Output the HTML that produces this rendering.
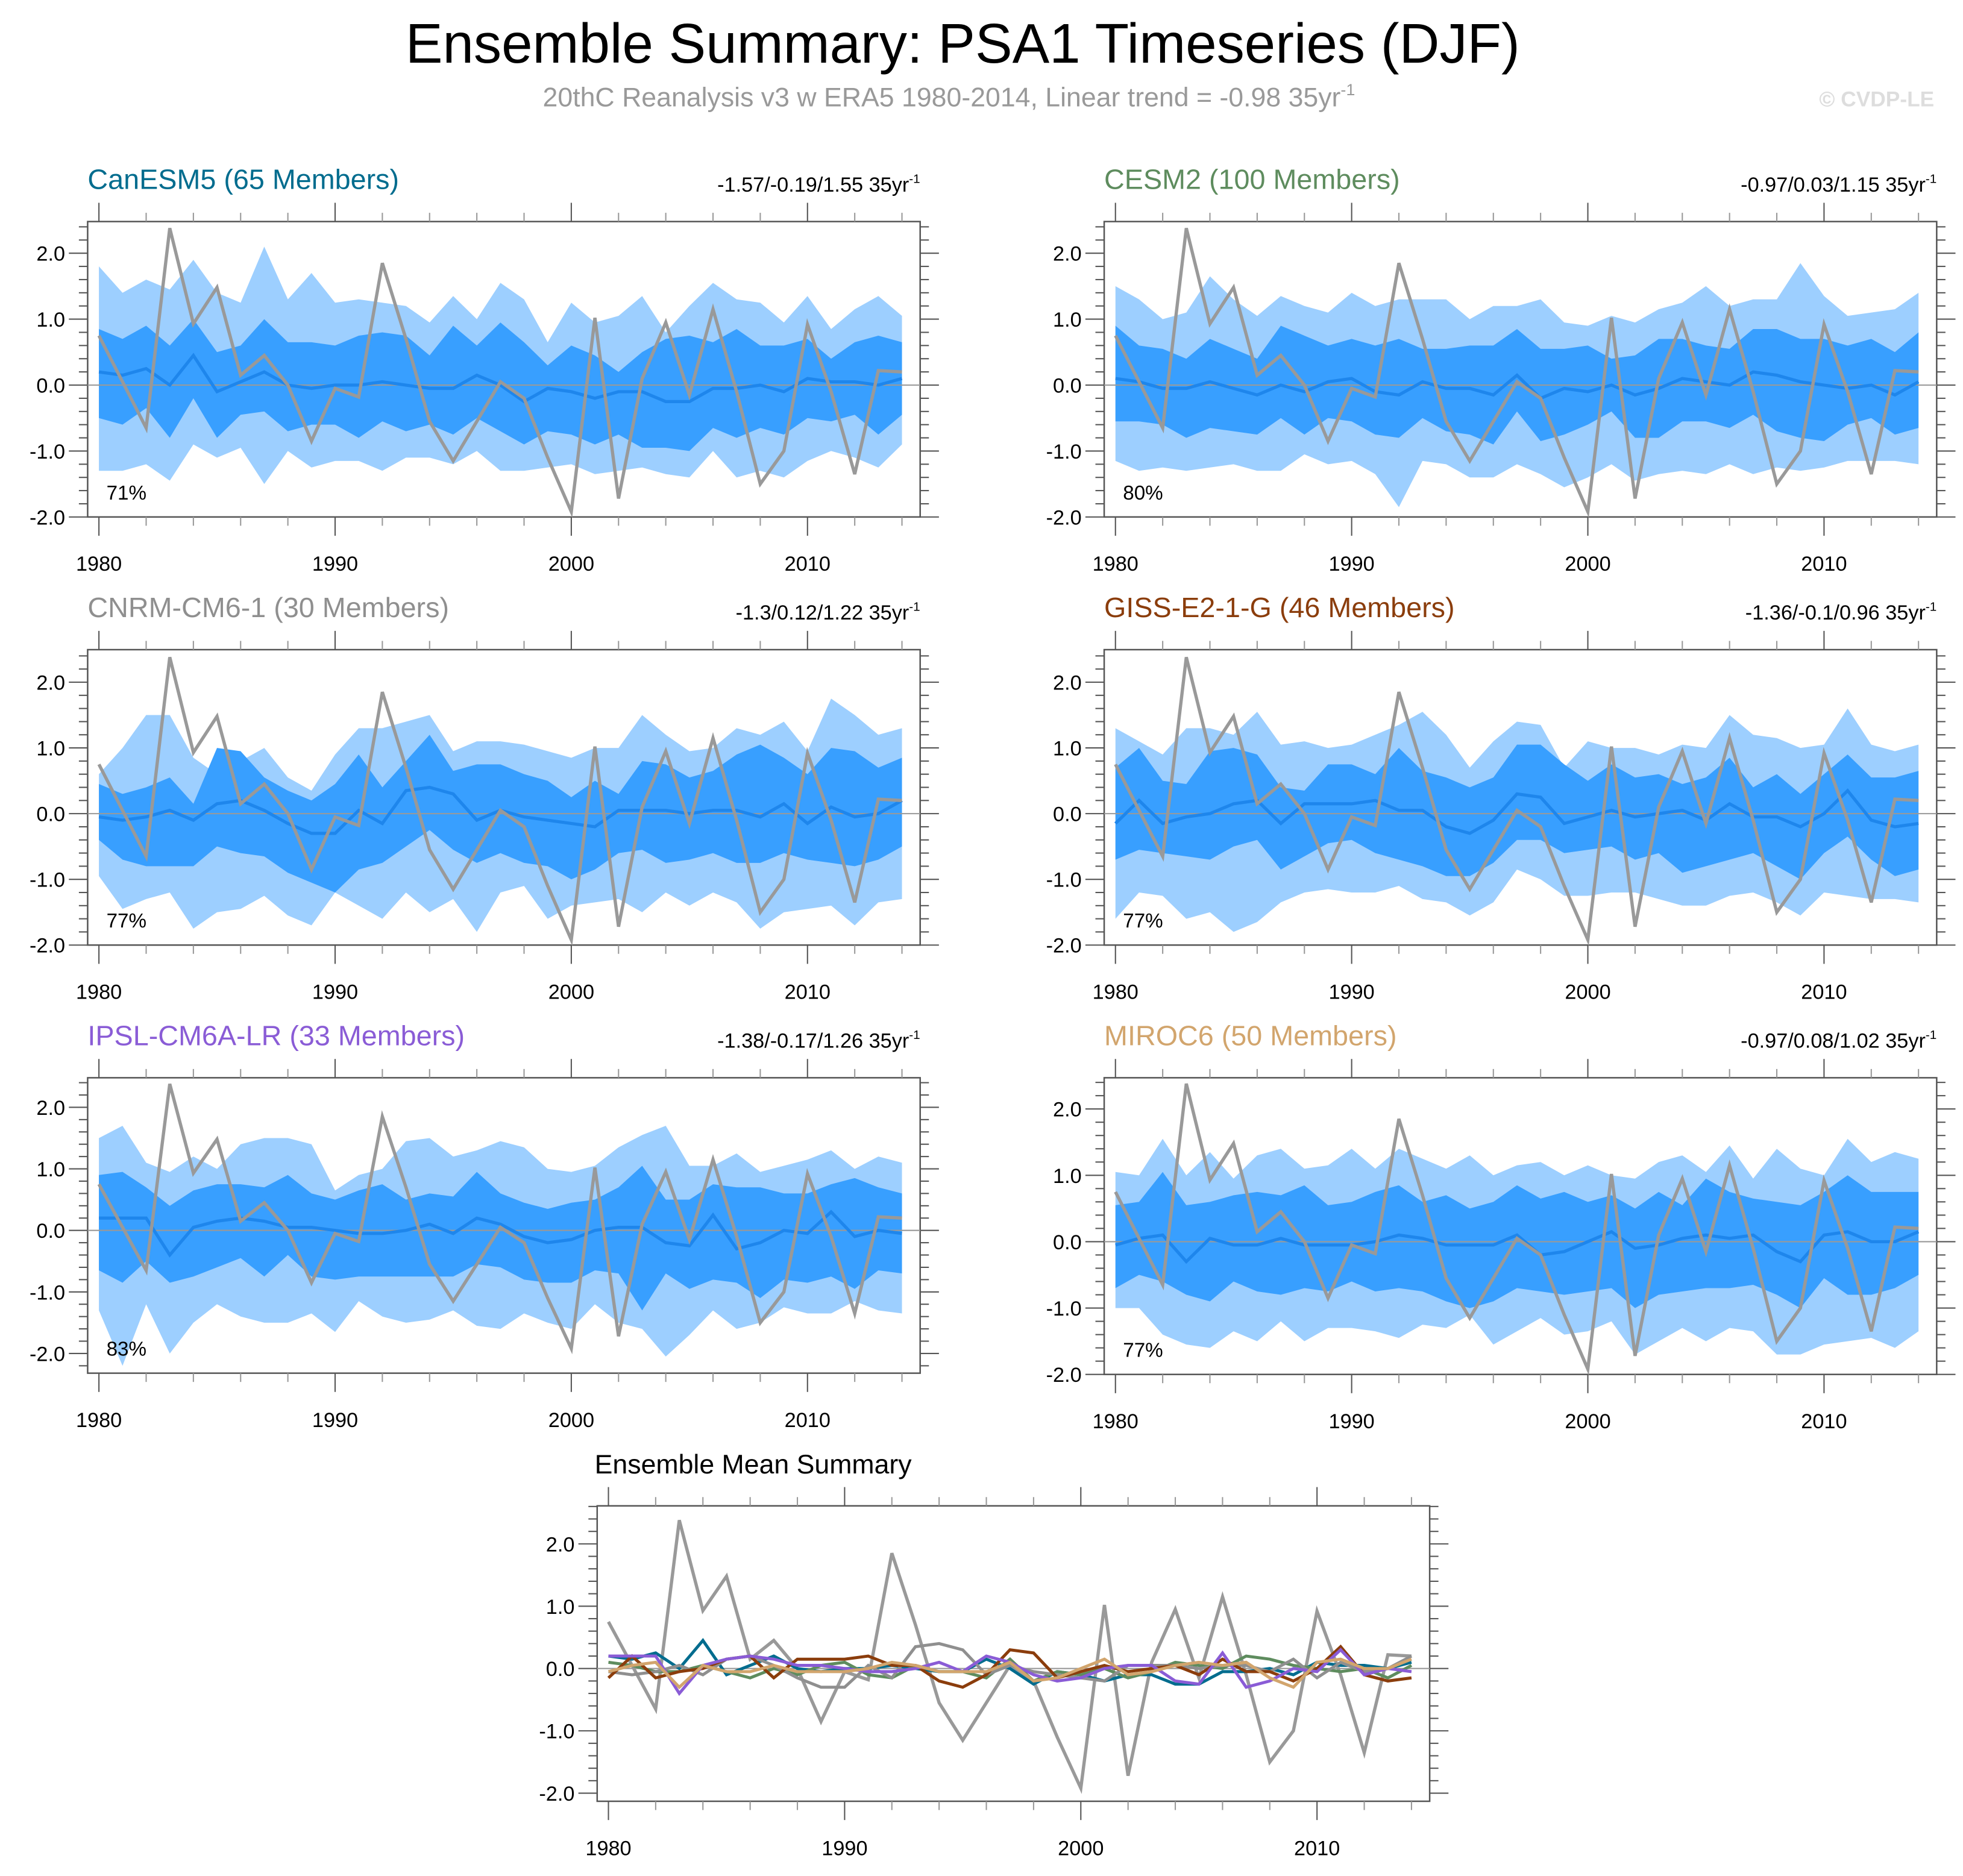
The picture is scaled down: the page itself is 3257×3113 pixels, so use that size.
<!DOCTYPE html>
<html><head><meta charset="utf-8"><style>
html,body{margin:0;padding:0;background:#fff;}
svg{display:block;font-family:"Liberation Sans",Arial,sans-serif;}
</style></head><body>
<svg id="chart" xmlns="http://www.w3.org/2000/svg" width="3257" height="3113" viewBox="0 0 1568 1498.7">
<rect x="0" y="0" width="1568" height="1499" fill="#fff"/>
<text x="769" y="50" text-anchor="middle" font-size="44.5" fill="#000">Ensemble Summary: PSA1 Timeseries (DJF)</text>
<text x="758" y="85" text-anchor="middle" font-size="21.5" fill="#999">20thC Reanalysis v3 w ERA5 1980-2014, Linear trend = -0.98 35yr<tspan font-size="13" dy="-9">-1</tspan></text>
<text x="1545" y="85" text-anchor="end" font-size="17" font-weight="bold" fill="#ddd">© CVDP-LE</text>
</svg>
<script>
const years = [];
for (let y = 1980; y <= 2014; y++) years.push(y);
const obs = [0.75,0.05,-0.65,2.38,0.93,1.48,0.15,0.45,0.0,-0.85,-0.05,-0.18,1.85,0.7,-0.55,-1.15,-0.55,0.05,-0.2,-1.1,-1.92,1.02,-1.72,0.1,0.95,-0.15,1.15,-0.1,-1.5,-1.0,0.92,-0.1,-1.35,0.22,0.2];

const canLU=[1.8,1.4,1.6,1.45,1.9,1.4,1.25,2.1,1.3,1.7,1.25,1.3,1.25,1.2,0.95,1.35,1.0,1.55,1.3,0.65,1.25,0.95,1.05,1.35,0.8,1.2,1.55,1.3,1.25,0.95,1.35,0.85,1.15,1.35,1.05];
const canDU=[0.85,0.7,0.9,0.6,1.0,0.5,0.6,1.0,0.65,0.65,0.6,0.75,0.8,0.75,0.45,0.9,0.6,0.95,0.65,0.3,0.6,0.45,0.2,0.5,0.7,0.75,0.65,0.85,0.6,0.6,0.7,0.4,0.65,0.75,0.65];
const canM=[0.2,0.15,0.25,0.0,0.45,-0.1,0.05,0.2,0.0,-0.05,0.0,0.0,0.05,0.0,-0.05,-0.05,0.15,0.0,-0.25,-0.05,-0.1,-0.2,-0.1,-0.1,-0.25,-0.25,-0.05,-0.05,0.0,-0.1,0.1,0.05,0.05,0.0,0.1];
const canDL=[-0.5,-0.6,-0.35,-0.8,-0.2,-0.8,-0.45,-0.4,-0.7,-0.6,-0.6,-0.8,-0.55,-0.7,-0.6,-0.75,-0.5,-0.7,-0.9,-0.7,-0.75,-0.9,-0.75,-0.95,-0.95,-1.0,-0.65,-0.8,-0.65,-0.75,-0.5,-0.55,-0.45,-0.75,-0.45];
const canLL=[-1.3,-1.3,-1.2,-1.45,-0.9,-1.1,-0.95,-1.5,-1.0,-1.25,-1.15,-1.15,-1.3,-1.1,-1.1,-1.2,-1.0,-1.3,-1.3,-1.25,-1.2,-1.35,-1.3,-1.25,-1.35,-1.4,-1.0,-1.4,-1.3,-1.4,-1.15,-1.0,-1.1,-1.25,-0.9];

const cesLU=[1.5,1.3,1.0,1.1,1.65,1.3,1.05,1.35,1.2,1.1,1.4,1.2,1.3,1.3,1.3,1.0,1.2,1.2,1.3,0.95,0.9,1.05,0.95,1.15,1.25,1.5,1.2,1.3,1.3,1.85,1.35,1.05,1.1,1.15,1.4];
const cesDU=[0.9,0.6,0.55,0.4,0.7,0.55,0.4,0.9,0.75,0.6,0.7,0.6,0.7,0.55,0.55,0.6,0.6,0.85,0.55,0.55,0.6,0.4,0.45,0.7,0.7,0.6,0.55,0.85,0.85,0.7,0.7,0.6,0.7,0.5,0.8];
const cesM=[0.1,0.05,-0.05,-0.05,0.05,-0.05,-0.15,0.0,-0.1,0.05,0.1,-0.1,-0.15,0.05,-0.05,-0.05,-0.15,0.15,-0.2,-0.05,-0.1,0.0,-0.15,-0.05,0.1,0.05,0.0,0.2,0.15,0.05,0.0,-0.05,0.0,-0.15,0.05];
const cesDL=[-0.55,-0.55,-0.6,-0.8,-0.65,-0.7,-0.75,-0.5,-0.75,-0.5,-0.55,-0.75,-0.8,-0.5,-0.7,-0.75,-0.9,-0.4,-0.85,-0.75,-0.6,-0.4,-0.8,-0.8,-0.55,-0.55,-0.65,-0.45,-0.7,-0.8,-0.85,-0.6,-0.5,-0.75,-0.65];
const cesLL=[-1.15,-1.3,-1.25,-1.3,-1.25,-1.2,-1.3,-1.3,-1.05,-1.2,-1.15,-1.35,-1.85,-1.15,-1.2,-1.4,-1.4,-1.2,-1.35,-1.55,-1.4,-1.2,-1.45,-1.35,-1.3,-1.35,-1.2,-1.35,-1.25,-1.3,-1.25,-1.15,-1.15,-1.15,-1.2];

const cnrLU=[0.6,1.0,1.5,1.5,0.85,0.6,0.8,1.0,0.55,0.35,0.9,1.3,1.3,1.4,1.5,0.95,1.1,1.1,1.05,0.95,0.85,1.0,1.0,1.5,1.2,0.95,1.0,1.3,1.2,1.4,0.95,1.75,1.5,1.2,1.3];
const cnrDU=[0.45,0.3,0.4,0.55,0.15,1.0,0.95,0.55,0.35,0.2,0.45,0.9,0.4,0.8,1.2,0.65,0.75,0.75,0.6,0.5,0.25,0.5,0.3,0.8,0.75,0.55,0.65,0.9,1.05,0.85,0.6,1.0,0.95,0.7,0.85];
const cnrM=[-0.05,-0.1,-0.05,0.05,-0.1,0.15,0.2,0.05,-0.15,-0.3,-0.3,0.05,-0.15,0.35,0.4,0.3,-0.1,0.05,-0.05,-0.1,-0.15,-0.2,0.05,0.05,0.05,0.0,0.05,0.05,-0.05,0.15,-0.15,0.1,-0.05,0.0,0.2];
const cnrDL=[-0.4,-0.7,-0.8,-0.8,-0.8,-0.5,-0.6,-0.65,-0.9,-1.05,-1.2,-0.85,-0.75,-0.5,-0.25,-0.55,-0.75,-0.6,-0.75,-0.8,-1.0,-0.85,-0.6,-0.55,-0.75,-0.7,-0.6,-0.75,-0.75,-0.6,-0.7,-0.75,-0.8,-0.7,-0.5];
const cnrLL=[-0.95,-1.45,-1.3,-1.2,-1.75,-1.5,-1.45,-1.25,-1.55,-1.7,-1.2,-1.4,-1.6,-1.2,-1.5,-1.3,-1.8,-1.2,-1.1,-1.6,-1.4,-1.35,-1.3,-1.5,-1.2,-1.4,-1.2,-1.35,-1.75,-1.5,-1.45,-1.4,-1.7,-1.35,-1.3];

const gisLU=[1.3,1.1,0.9,1.3,1.3,1.2,1.55,1.05,1.1,1.0,1.05,1.2,1.35,1.55,1.2,0.7,1.1,1.4,1.35,0.7,1.1,1.0,1.0,0.9,1.05,1.0,1.5,1.2,1.15,1.0,1.05,1.6,1.05,0.95,1.05];
const gisDU=[0.7,1.0,0.5,0.45,0.95,1.0,0.9,0.4,0.35,0.75,0.75,0.6,1.0,0.65,0.55,0.4,0.55,1.05,1.05,0.75,0.5,0.75,0.55,0.6,0.45,0.55,0.85,0.4,0.6,0.3,0.6,0.9,0.55,0.55,0.65];
const gisM=[-0.15,0.2,-0.15,-0.05,0.0,0.15,0.2,-0.15,0.15,0.15,0.15,0.2,0.05,0.05,-0.2,-0.3,-0.1,0.3,0.25,-0.15,-0.05,0.05,-0.05,0.0,0.05,-0.1,0.15,-0.05,-0.05,-0.2,0.0,0.35,-0.1,-0.2,-0.15];
const gisDL=[-0.7,-0.55,-0.6,-0.65,-0.7,-0.5,-0.4,-0.85,-0.65,-0.45,-0.4,-0.6,-0.7,-0.8,-0.95,-0.95,-0.75,-0.4,-0.4,-0.6,-0.55,-0.5,-0.7,-0.6,-0.9,-0.8,-0.7,-0.6,-0.8,-1.0,-0.6,-0.35,-0.7,-0.95,-0.85];
const gisLL=[-1.6,-1.2,-1.25,-1.6,-1.5,-1.8,-1.65,-1.35,-1.2,-1.15,-1.2,-1.2,-1.1,-1.3,-1.35,-1.55,-1.35,-0.85,-1.0,-1.25,-1.25,-1.2,-1.2,-1.3,-1.4,-1.4,-1.25,-1.2,-1.35,-1.55,-1.2,-1.25,-1.3,-1.3,-1.35];

const ipsLU=[1.5,1.7,1.1,0.95,1.2,1.0,1.4,1.5,1.5,1.4,0.65,0.9,1.0,1.45,1.5,1.2,1.3,1.45,1.35,1.0,0.95,1.05,1.35,1.55,1.7,1.05,1.05,1.25,0.95,1.05,1.15,1.3,1.0,1.2,1.1];
const ipsDU=[0.9,0.95,0.7,0.4,0.65,0.75,0.75,0.7,0.9,0.6,0.5,0.65,0.75,0.5,0.6,0.55,0.95,0.6,0.45,0.35,0.45,0.5,0.7,1.05,0.5,0.5,0.75,0.7,0.7,0.6,0.6,0.75,0.85,0.7,0.6];
const ipsM=[0.2,0.2,0.2,-0.4,0.05,0.15,0.2,0.15,0.05,0.05,0.0,-0.05,-0.05,0.0,0.1,-0.05,0.2,0.1,-0.1,-0.2,-0.15,0.0,0.05,0.05,-0.2,-0.25,0.25,-0.3,-0.2,0.0,-0.05,0.3,-0.1,0.0,-0.05];
const ipsDL=[-0.65,-0.85,-0.5,-0.85,-0.75,-0.6,-0.45,-0.75,-0.4,-0.75,-0.8,-0.75,-0.75,-0.75,-0.75,-0.75,-0.55,-0.6,-0.8,-0.85,-0.85,-0.65,-0.7,-1.3,-0.7,-0.95,-0.8,-0.85,-1.1,-0.8,-0.85,-0.75,-0.95,-0.65,-0.7];
const ipsLL=[-1.3,-2.2,-1.2,-2.0,-1.5,-1.2,-1.4,-1.5,-1.5,-1.35,-1.65,-1.15,-1.4,-1.5,-1.45,-1.3,-1.55,-1.6,-1.35,-1.5,-1.6,-1.2,-1.5,-1.6,-2.05,-1.7,-1.3,-1.6,-1.5,-1.25,-1.35,-1.35,-1.15,-1.3,-1.35];

const mirLU=[1.05,1.0,1.55,1.0,1.35,0.95,1.3,1.4,1.1,1.15,1.4,1.1,1.4,1.25,1.1,1.3,1.0,1.15,1.2,1.0,1.15,1.0,0.95,1.2,1.3,1.05,1.45,0.95,1.4,1.1,1.0,1.55,1.2,1.35,1.25];
const mirDU=[0.55,0.6,1.05,0.55,0.6,0.7,0.75,0.7,0.85,0.55,0.6,0.75,0.85,0.6,0.7,0.5,0.6,0.85,0.65,0.75,0.6,0.7,0.5,0.75,0.55,0.95,0.75,0.65,0.6,0.55,0.75,1.0,0.75,0.75,0.75];
const mirM=[-0.05,0.05,0.1,-0.3,0.05,-0.05,-0.05,0.05,-0.05,-0.05,-0.05,0.0,0.1,0.05,-0.05,-0.05,-0.05,0.1,-0.2,-0.15,0.0,0.15,-0.1,-0.05,0.05,0.1,0.05,0.1,-0.15,-0.3,0.1,0.15,0.0,0.0,0.15];
const mirDL=[-0.7,-0.5,-0.6,-0.8,-0.9,-0.6,-0.75,-0.8,-0.7,-0.75,-0.6,-0.75,-0.7,-0.75,-0.9,-1.0,-0.9,-0.7,-0.75,-0.8,-0.75,-0.7,-1.0,-0.8,-0.75,-0.7,-0.7,-0.65,-0.8,-1.0,-0.55,-0.8,-0.8,-0.7,-0.5];
const mirLL=[-1.0,-1.0,-1.4,-1.55,-1.6,-1.35,-1.5,-1.2,-1.5,-1.3,-1.3,-1.35,-1.45,-1.25,-1.3,-1.1,-1.55,-1.35,-1.15,-1.4,-1.35,-1.2,-1.7,-1.5,-1.3,-1.5,-1.3,-1.35,-1.7,-1.7,-1.55,-1.5,-1.45,-1.6,-1.35];

const yTicks = [2.0,1.0,0.0,-1.0,-2.0];
const yTickLabels = ["2.0","1.0","0.0","-1.0","-2.0"];
const xTicks = [1980,1990,2000,2010];
const xTickLabels = ["1980","1990","2000","2010"];

const NS = "http://www.w3.org/2000/svg";
const svg = document.getElementById('chart');
function mk(tag, attrs, parent){
  const e = document.createElementNS(NS, tag);
  for (const k in attrs) e.setAttribute(k, attrs[k]);
  (parent||svg).appendChild(e);
  return e;
}

const panels = [
  {key:"canesm5",title:"CanESM5 (65 Members)",color:"#006c8e",trend:"-1.57/-0.19/1.55 35yr",pct:"71%",x0:70,y0:177,y1:413,vt:2.48,vb:-2.0,LU:canLU,DU:canDU,M:canM,DL:canDL,LL:canLL},
  {key:"cesm2",title:"CESM2 (100 Members)",color:"#5e8c5e",trend:"-0.97/0.03/1.15 35yr",pct:"80%",x0:882,y0:177,y1:413,vt:2.48,vb:-2.0,LU:cesLU,DU:cesDU,M:cesM,DL:cesDL,LL:cesLL},
  {key:"cnrm-cm6-1",title:"CNRM-CM6-1 (30 Members)",color:"#8f8f8f",trend:"-1.3/0.12/1.22 35yr",pct:"77%",x0:70,y0:519,y1:755,vt:2.495,vb:-2.0,LU:cnrLU,DU:cnrDU,M:cnrM,DL:cnrDL,LL:cnrLL},
  {key:"giss-e2-1-g",title:"GISS-E2-1-G (46 Members)",color:"#8b3d0c",trend:"-1.36/-0.1/0.96 35yr",pct:"77%",x0:882,y0:519,y1:755,vt:2.495,vb:-2.0,LU:gisLU,DU:gisDU,M:gisM,DL:gisDL,LL:gisLL},
  {key:"ipsl-cm6a-lr",title:"IPSL-CM6A-LR (33 Members)",color:"#8a5cd6",trend:"-1.38/-0.17/1.26 35yr",pct:"83%",x0:70,y0:861,y1:1097,vt:2.48,vb:-2.32,LU:ipsLU,DU:ipsDU,M:ipsM,DL:ipsDL,LL:ipsLL},
  {key:"miroc6",title:"MIROC6 (50 Members)",color:"#d2a56d",trend:"-0.97/0.08/1.02 35yr",pct:"77%",x0:882,y0:861,y1:1098,vt:2.47,vb:-2.0,LU:mirLU,DU:mirDU,M:mirM,DL:mirDL,LL:mirLL}
];

function axes(g, x0, x1, y0, y1, vt, vb, name){
  const xs = yr => x0 + (yr - 1979.523) / (2014.77 - 1979.523) * (x1 - x0);
  const ys = v => y0 + (vt - v) / (vt - vb) * (y1 - y0);
  return {xs, ys, draw(){
    const box = mk('rect',{x:x0,y:y0,width:x1-x0,height:y1-y0,fill:'none',stroke:'#555','stroke-width':1.2},g);
    
    
    for (let v = -3.0; v <= 3.01; v += 0.2) {
      const vv = Math.round(v*10)/10;
      if (vv > vt || vv < vb) continue;
      const major = Math.abs(vv - Math.round(vv)) < 1e-6;
      const L = major ? 15 : 7;
      const y = ys(vv);
      mk('line',{x1:x0-L,y1:y,x2:x0,y2:y,stroke:'#555','stroke-width':1},g);
      mk('line',{x1:x1,y1:y,x2:x1+L,y2:y,stroke:'#555','stroke-width':1},g);
    }
    for (let yr = 1980; yr <= 2014; yr += 2) {
      const major = yr % 10 === 0;
      const L = major ? 15 : 7;
      const x = xs(yr);
      mk('line',{x1:x,y1:y1,x2:x,y2:y1+L,stroke:major?'#555':'#999','stroke-width':1},g);
      mk('line',{x1:x,y1:y0-L,x2:x,y2:y0,stroke:major?'#555':'#999','stroke-width':1},g);
    }
    yTicks.forEach((v,i) => {
      if (v > vt || v < vb) return;
      const t = mk('text',{x:x0-18,y:ys(v)+6,'text-anchor':'end','font-size':16.5,fill:'#000'},g);
      t.textContent = yTickLabels[i];
      
      
    });
    xTicks.forEach((yr,i) => {
      const t = mk('text',{x:xs(yr),y:y1+43,'text-anchor':'middle','font-size':16.5,fill:'#000'},g);
      t.textContent = xTickLabels[i];
      
      
    });
    const z = mk('line',{x1:x0,y1:ys(0),x2:x1,y2:ys(0),stroke:'#999','stroke-width':1},g);
    
    
  }};
}

function band(g, ax, up, lo, fill){
  let d = '';
  up.forEach((v,i) => d += (i?'L':'M') + ax.xs(years[i]).toFixed(2) + ',' + ax.ys(v).toFixed(2));
  for (let i = lo.length-1; i >= 0; i--) d += 'L' + ax.xs(years[i]).toFixed(2) + ',' + ax.ys(lo[i]).toFixed(2);
  return mk('path',{d:d+'Z',fill:fill,stroke:'none'},g);
}
function line(g, ax, vals, color, w){
  const pts = vals.map((v,i) => ax.xs(years[i]).toFixed(2) + ',' + ax.ys(v).toFixed(2)).join(' ');
  return mk('polyline',{points:pts,fill:'none',stroke:color,'stroke-width':w,'stroke-linejoin':'miter'},g);
}

panels.forEach(p => {
  const g = mk('g',{});
  
  
  const x1 = p.x0 + 665;
  const ax = axes(g, p.x0, x1, p.y0, p.y1, p.vt, p.vb, p.key);
  const b1 = band(g, ax, p.LU, p.LL, '#9dcfff');
  
  
  const b2 = band(g, ax, p.DU, p.DL, '#389fff');
  
  
  ax.draw();
  const m = line(g, ax, p.M, '#1e86ec', 2.5);
  
  
  const o = line(g, ax, obs, '#999999', 2.6);
  
  
  const t = mk('text',{x:p.x0,y:p.y0-26,'font-size':22.5,fill:p.color},g);
  t.textContent = p.title;
  
  
  const tr = mk('text',{x:x1,y:p.y0-24,'text-anchor':'end','font-size':16.5,fill:'#000'},g);
  tr.textContent = p.trend;
  const sup = mk('tspan',{'font-size':10,dy:-7},tr);
  sup.textContent = '-1';
  
  
  const pc = mk('text',{x:p.x0+15,y:p.y1-14,'font-size':16,fill:'#000'},g);
  pc.textContent = p.pct;
  
  
});

const gs = mk('g',{});


const axS = axes(gs, 477, 1142, 1203, 1439, 2.61, -2.13, 'summary');
axS.draw();
const ts = mk('text',{x:475,y:1177,'font-size':21.5,fill:'#000'},gs);
ts.textContent = 'Ensemble Mean Summary';


const os = line(gs, axS, obs, '#999999', 2.6);


panels.forEach(p => {
  const l = line(gs, axS, p.M, p.color, 2.4);
  
  
});
</script>
</body></html>
